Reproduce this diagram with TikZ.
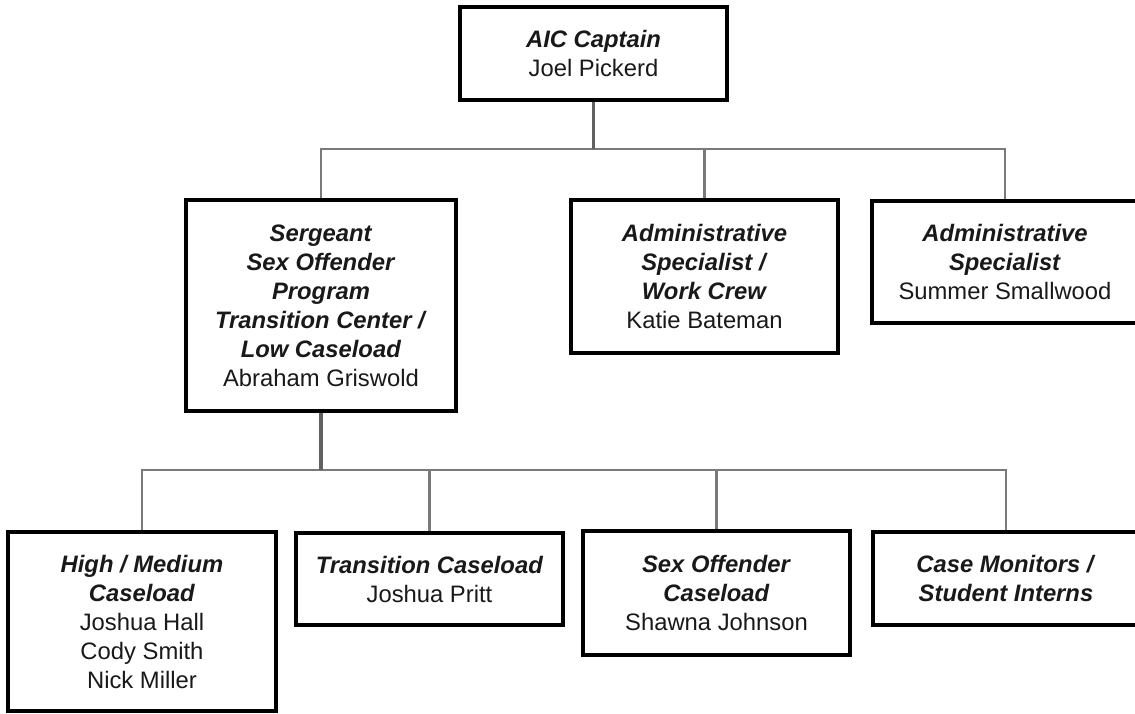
\documentclass[tikz,border=0pt]{standalone}
\usepackage{fontspec}
\setmainfont{Liberation Sans}
\begin{document}
\begin{tikzpicture}[x=1pt,y=-1pt,
  box/.style={draw=black,line width=4pt,fill=white,rectangle,align=center,inner sep=0pt,
    font=\fontsize{23.8}{29}\selectfont,text=black!90},
  bus/.style={draw=black!52,line width=2.8pt},
  stem/.style={draw=black!62,line width=3.6pt}]
\useasboundingbox (0,0) rectangle (1135,713);
\newcommand{\ttl}[1]{\textbf{\textit{#1}}}
\node[box,minimum width=267pt,minimum height=93pt] (top) at (593.5,53.5)
  {\ttl{AIC Captain}\\Joel Pickerd};
\node[box,minimum width=270pt,minimum height=211pt] (serg) at (321,305.5)
  {\ttl{Sergeant}\\\ttl{Sex Offender}\\\ttl{Program}\\\ttl{Transition Center /}\\\ttl{Low Caseload}\\Abraham Griswold};
\node[box,minimum width=267pt,minimum height=153pt] (work) at (704.5,276.5)
  {\ttl{Administrative}\\\ttl{Specialist /}\\\ttl{Work Crew}\\Katie Bateman};
\node[box,minimum width=266pt,minimum height=122pt] (summer) at (1005,262)
  {\ttl{Administrative}\\\ttl{Specialist}\\Summer Smallwood};
\node[box,minimum width=268pt,minimum height=179pt] (high) at (142,621.5)
  {\ttl{High / Medium}\\\ttl{Caseload}\\Joshua Hall\\Cody Smith\\Nick Miller};
\node[box,minimum width=267pt,minimum height=92pt] (trans) at (429.5,579)
  {\ttl{Transition Caseload}\\Joshua Pritt};
\node[box,minimum width=267pt,minimum height=124pt] (sexoff) at (716.5,593)
  {\ttl{Sex Offender}\\\ttl{Caseload}\\Shawna Johnson};
\node[box,minimum width=266pt,minimum height=93pt] (case) at (1006,578.5)
  {\ttl{Case Monitors /}\\\ttl{Student Interns}};
\coordinate (b1) at (top.south |- 0,149);
\coordinate (b2) at (serg.south |- 0,470);
\draw[bus] (serg.north) |- (b1) -| (summer.north);
\draw[bus] (b1 -| work.north) -- (work.north);
\draw[stem] (top.south) -- (b1);
\draw[bus] (high.north) |- (b2) -| (case.north);
\draw[bus] (b2 -| trans.north) -- (trans.north);
\draw[bus] (b2 -| sexoff.north) -- (sexoff.north);
\draw[stem] (serg.south) -- (b2);
\end{tikzpicture}
\end{document}
